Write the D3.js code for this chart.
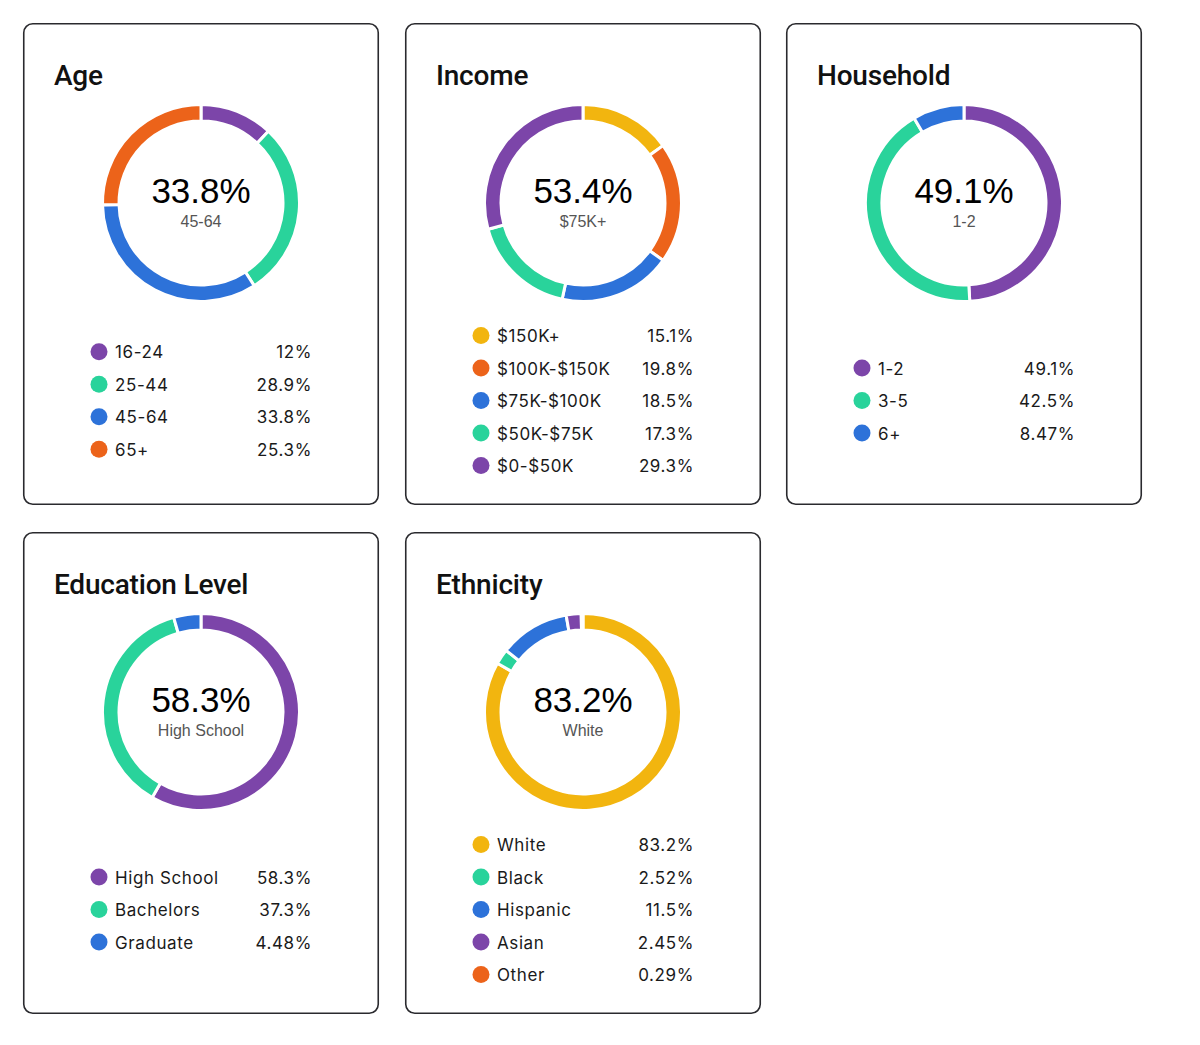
<!DOCTYPE html>
<html>
<head>
<meta charset="utf-8">
<script src="https://cdn.jsdelivr.net/npm/d3@7"></script>
<style>
  html, body { margin: 0; padding: 0; background: #fff; }
  svg { display: block; }
</style>
</head>
<body>
<svg id="chart" width="1200" height="1045"></svg>
<script>
// ---- Data ----
const ageLabels = ["16-24", "25-44", "45-64", "65+"];
const ageValues = [12, 28.9, 33.8, 25.3];
const ageValueText = ["12%", "28.9%", "33.8%", "25.3%"];

const incomeLabels = ["$150K+", "$100K-$150K", "$75K-$100K", "$50K-$75K", "$0-$50K"];
const incomeValues = [15.1, 19.8, 18.5, 17.3, 29.3];
const incomeValueText = ["15.1%", "19.8%", "18.5%", "17.3%", "29.3%"];

const householdLabels = ["1-2", "3-5", "6+"];
const householdValues = [49.1, 42.5, 8.47];
const householdValueText = ["49.1%", "42.5%", "8.47%"];

const educationLabels = ["High School", "Bachelors", "Graduate"];
const educationValues = [58.3, 37.3, 4.48];
const educationValueText = ["58.3%", "37.3%", "4.48%"];

const ethnicityLabels = ["White", "Black", "Hispanic", "Asian", "Other"];
const ethnicityValues = [83.2, 2.52, 11.5, 2.45, 0.29];
const ethnicityValueText = ["83.2%", "2.52%", "11.5%", "2.45%", "0.29%"];

const C = { purple: "#7c45a9", green: "#29d39b", blue: "#2d72d9", orange: "#ec631a", yellow: "#f2b50f" };

const panels = [
  { title: "Age", labels: ageLabels, values: ageValues, text: ageValueText,
    colors: [C.purple, C.green, C.blue, C.orange], center: "33.8%", sub: "45-64" },
  { title: "Income", labels: incomeLabels, values: incomeValues, text: incomeValueText,
    colors: [C.yellow, C.orange, C.blue, C.green, C.purple], center: "53.4%", sub: "$75K+" },
  { title: "Household", labels: householdLabels, values: householdValues, text: householdValueText,
    colors: [C.purple, C.green, C.blue], center: "49.1%", sub: "1-2" },
  { title: "Education Level", labels: educationLabels, values: educationValues, text: educationValueText,
    colors: [C.purple, C.green, C.blue], center: "58.3%", sub: "High School" },
  { title: "Ethnicity", labels: ethnicityLabels, values: ethnicityValues, text: ethnicityValueText,
    colors: [C.yellow, C.green, C.blue, C.purple, C.orange], center: "83.2%", sub: "White" }
];

// ---- Layout ----
const svg = d3.select("#chart");
const cardW = 356, cardH = 482;
const colX = [23, 405, 786];
const rowY = [23, 532];
const outerR = 98.5, innerR = 82;

const pie = d3.pie().sort(null).value(d => d);
const arc = d3.arc().innerRadius(innerR).outerRadius(outerR);

panels.forEach((p, i) => {
  const x0 = colX[i % 3], y0 = rowY[Math.floor(i / 3)];
  const g = svg.append("g").attr("transform", `translate(${x0},${y0})`);

  g.append("rect")
    .attr("x", 0.75).attr("y", 0.75)
    .attr("width", cardW - 1.5).attr("height", cardH - 1.5)
    .attr("rx", 9).attr("ry", 9)
    .attr("fill", "#fff").attr("stroke", "#2a2a2e").attr("stroke-width", 1.6);

  g.append("text")
    .attr("x", 31).attr("y", 61.5)
    .attr("font-family", "Roboto, sans-serif")
    .attr("font-weight", 500)
    .attr("font-size", 28)
    .attr("letter-spacing", -0.2)
    .attr("fill", "#111")
    .text(p.title);

  const cx = cardW / 2, cy = 180;
  const dg = g.append("g").attr("transform", `translate(${cx},${cy})`);
  dg.selectAll("path")
    .data(pie(p.values))
    .join("path")
    .attr("d", arc)
    .attr("fill", (d, j) => p.colors[j])
    .attr("stroke", "#fff")
    .attr("stroke-width", 3);

  dg.append("text")
    .attr("x", 0).attr("y", 0)
    .attr("text-anchor", "middle")
    .attr("font-family", "'Liberation Sans', Arial, sans-serif")
    .attr("font-size", 35)
    .attr("fill", "#000")
    .text(p.center);
  dg.append("text")
    .attr("x", 0).attr("y", 24)
    .attr("text-anchor", "middle")
    .attr("font-family", "'Liberation Sans', Arial, sans-serif")
    .attr("font-size", 16)
    .attr("fill", "#555")
    .text(p.sub);

  // Legend
  const n = p.labels.length;
  const step = 32.5;
  const midY = 377.5;
  const yScale = d3.scaleLinear().domain([0, n - 1]).range([midY - step * (n - 1) / 2, midY + step * (n - 1) / 2]);
  const lg = g.append("g");
  const rows = lg.selectAll("g.row").data(p.labels).join("g")
    .attr("class", "row")
    .attr("transform", (d, j) => `translate(0,${n > 1 ? yScale(j) : midY})`);
  rows.append("circle")
    .attr("cx", 76).attr("cy", 0).attr("r", 8.5)
    .attr("fill", (d, j) => p.colors[j]);
  rows.append("text")
    .attr("x", 92).attr("y", 6.5)
    .attr("font-family", "Inter, 'Noto Sans', sans-serif")
    .attr("font-size", 17)
    .attr("letter-spacing", 0.6)
    .attr("fill", "#1a1a1a")
    .text(d => d);
  rows.append("text")
    .attr("x", 289).attr("y", 6.5)
    .attr("text-anchor", "end")
    .attr("font-family", "Inter, 'Noto Sans', sans-serif")
    .attr("font-size", 17)
    .attr("letter-spacing", 0.6)
    .attr("fill", "#1a1a1a")
    .text((d, j) => p.text[j]);
});
</script>
</body>
</html>
